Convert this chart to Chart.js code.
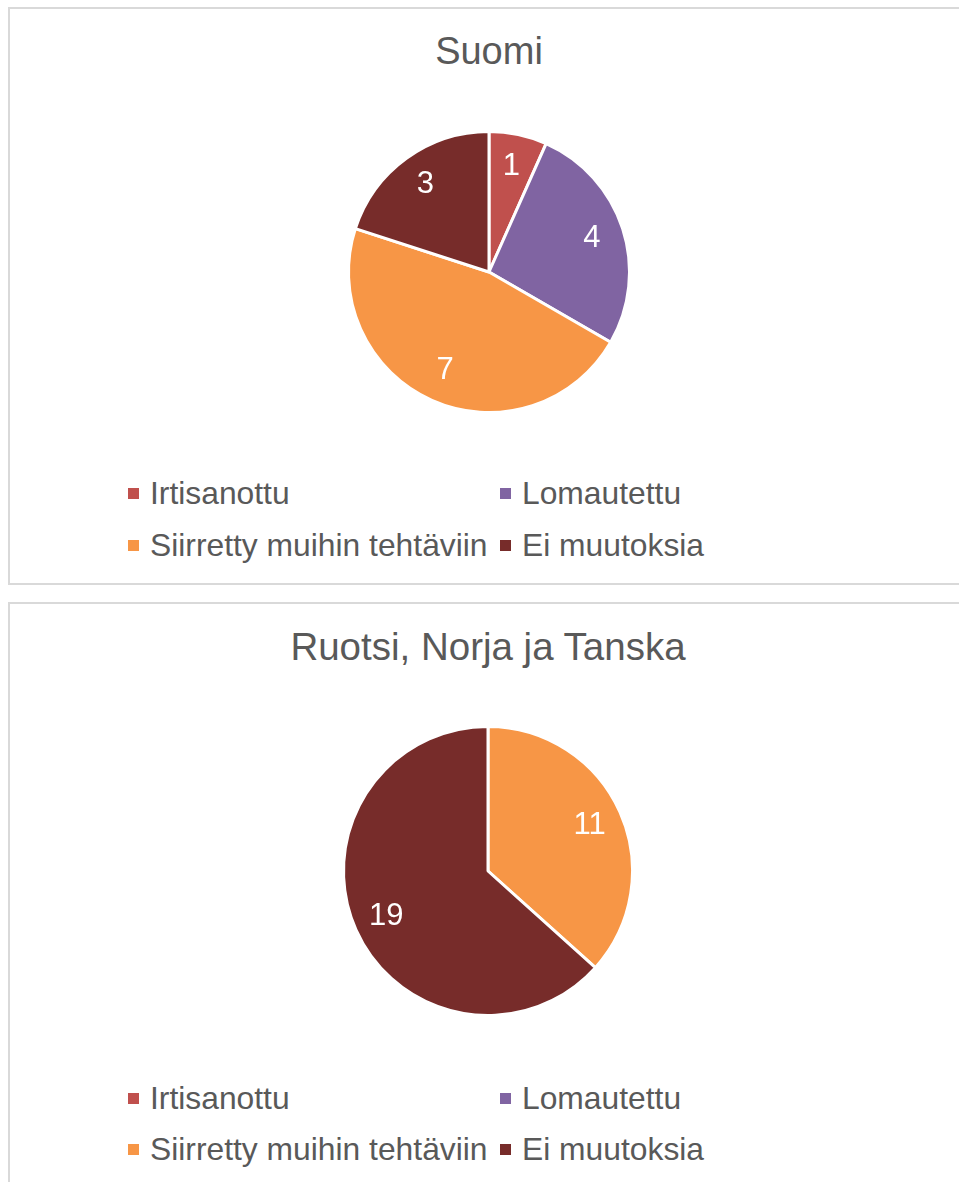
<!DOCTYPE html>
<html>
<head>
<meta charset="utf-8">
<script src="https://cdn.jsdelivr.net/npm/chart.js@4.4.1/dist/chart.umd.min.js"></script>
<style>
  html, body { margin: 0; padding: 0; background: #fff; width: 959px; height: 1182px; overflow: hidden; font-family: "Liberation Sans", Arial, sans-serif; }
  .box { position: absolute; left: 8px; width: 1000px; border: 2px solid #d9d9d9; background: #fff; box-sizing: border-box; }
  .title { position: absolute; width: 960px; text-align: center; color: #595959; font-size: 38px; line-height: 1; }
  .cv { position: absolute; }
  .leg { position: absolute; color: #595959; font-size: 31.8px; line-height: 1; white-space: nowrap; }
  .leg .sw { display: inline-block; width: 11px; height: 11px; margin-right: 11px; vertical-align: middle; position: relative; top: -2px; }
</style>
</head>
<body>
<div class="box" style="top:7px;height:578px;"></div>
<div class="box" style="top:602px;height:700px;"></div>

<div class="title" style="top:32px;left:9px;">Suomi</div>
<div class="title" style="top:628px;left:8px;font-size:38.5px;">Ruotsi, Norja ja Tanska</div>

<canvas id="c1" class="cv" style="left:339px;top:122px;" width="300" height="300"></canvas>
<canvas id="c2" class="cv" style="left:338px;top:721px;" width="300" height="300"></canvas>

<div id="leg1"></div>
<div id="leg2"></div>

<script>
const categories = ["Irtisanottu", "Lomautettu", "Siirretty muihin tehtäviin", "Ei muutoksia"];
const colors = ["#C0504D", "#8064A2", "#F79646", "#772C2A"];
const suomiValues = [1, 4, 7, 3];
const pohjoismaatValues = [0, 0, 11, 19];
const titles = ["Suomi", "Ruotsi, Norja ja Tanska"];

const labelPlugin = {
  id: 'arcLabels',
  afterDatasetsDraw(chart) {
    const ctx = chart.ctx;
    const meta = chart.getDatasetMeta(0);
    const data = chart.data.datasets[0].data;
    ctx.save();
    ctx.fillStyle = '#ffffff';
    ctx.font = '31px "Liberation Sans", Arial, sans-serif';
    ctx.textAlign = 'center';
    ctx.textBaseline = 'middle';
    meta.data.forEach((arc, i) => {
      if (!data[i]) return;
      const p = arc.getProps(['x', 'y', 'startAngle', 'endAngle', 'outerRadius'], true);
      const a = (p.startAngle + p.endAngle) / 2;
      const r = p.outerRadius * 0.77;
      ctx.fillText(String(data[i]), p.x + Math.cos(a) * r, p.y + Math.sin(a) * r);
    });
    ctx.restore();
  }
};

function makePie(id, values, pad) {
  return new Chart(document.getElementById(id), {
    type: 'pie',
    data: {
      labels: categories,
      datasets: [{
        data: values,
        backgroundColor: colors,
        borderColor: '#ffffff',
        borderWidth: 3
      }]
    },
    options: {
      responsive: false,
      animation: false,
      layout: { padding: pad },
      plugins: { legend: { display: false }, tooltip: { enabled: false }, title: { display: false } }
    },
    plugins: [labelPlugin]
  });
}

makePie('c1', suomiValues, 8);
makePie('c2', pohjoismaatValues, 4);

function makeLegend(id, rowTops) {
  const host = document.getElementById(id);
  const colX = [128, 500];
  categories.forEach((c, i) => {
    const d = document.createElement('div');
    d.className = 'leg';
    d.style.left = colX[i % 2] + 'px';
    d.style.top = rowTops[Math.floor(i / 2)] + 'px';
    d.innerHTML = '<span class="sw" style="background:' + colors[i] + '"></span>' + c;
    host.appendChild(d);
  });
}
makeLegend('leg1', [478, 530]);
makeLegend('leg2', [1083, 1134]);
</script>
</body>
</html>
